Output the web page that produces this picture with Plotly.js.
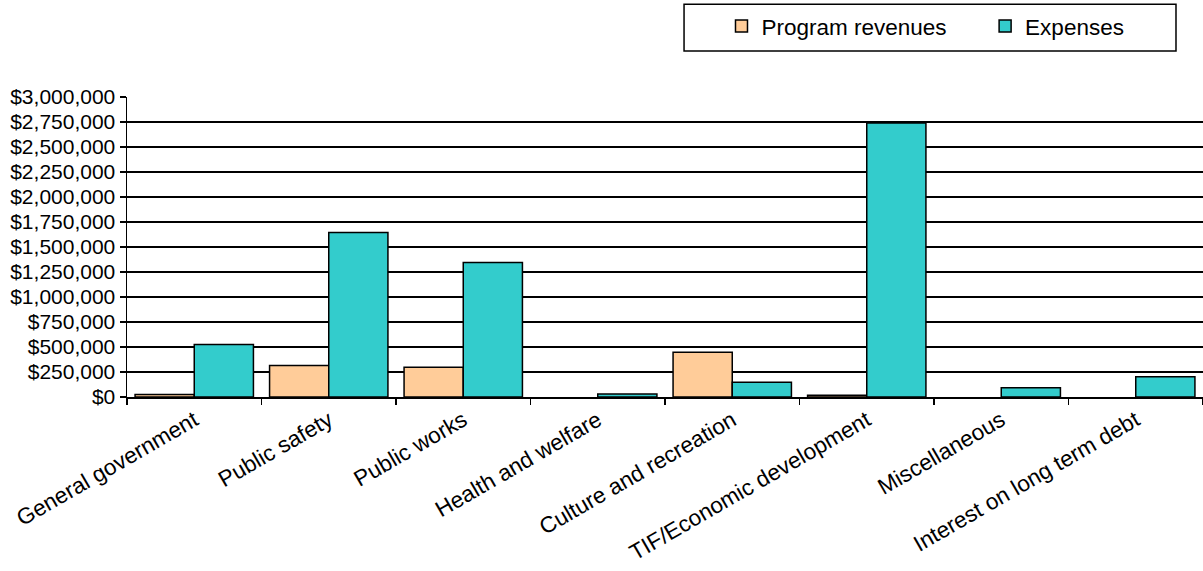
<!DOCTYPE html>
<html>
<head>
<meta charset="utf-8">
<script src="https://cdn.plot.ly/plotly-3.0.1.min.js"></script>
<style>html,body{margin:0;padding:0;background:#fff;}#chart{width:1203px;height:571px;}</style>
</head>
<body>
<div id="chart"></div>
<script>
const categories = ["General government", "Public safety", "Public works", "Health and welfare",
  "Culture and recreation", "TIF/Economic development", "Miscellaneous", "Interest on long term debt"];
const programRevenues = [25000, 314000, 297000, 0, 447000, 18000, 0, 0];
const expenses = [524000, 1645000, 1345000, 30000, 148000, 2740000, 92000, 202000];
const seriesNames = ["Program revenues", "Expenses"];

const fam = "Liberation Sans, Arial, sans-serif";
const noZero = arr => arr.map(v => (v === 0 ? null : v));

const traces = [
  {type: "bar", name: seriesNames[0], x: categories, y: noZero(programRevenues), legend: "legend",
   marker: {color: "#FFCC99", line: {color: "#000", width: 1.5}}},
  {type: "bar", name: seriesNames[1], x: categories, y: noZero(expenses), legend: "legend2",
   marker: {color: "#33CCCC", line: {color: "#000", width: 1.5}}}
];

const legendBase = {
  orientation: "h", xanchor: "left", y: 1.307, yanchor: "top",
  borderwidth: 0, bgcolor: "rgba(0,0,0,0)", itemwidth: 30,
  font: {family: fam, size: 22.5, color: "#000"}
};

const layout = {
  width: 1203, height: 571,
  margin: {l: 127, r: 0, t: 97, b: 173.5, pad: 0},
  paper_bgcolor: "#fff", plot_bgcolor: "#fff",
  font: {family: fam, size: 21, color: "#000"},
  barmode: "group", bargap: 0.12, bargroupgap: 0,
  showlegend: true,
  legend: Object.assign({}, legendBase, {x: 0.5525}),
  legend2: Object.assign({}, legendBase, {x: 0.7975}),
  shapes: [{type: "rect", xref: "paper", yref: "paper", x0: 0.5177, x1: 0.9749, y0: 1.1531, y1: 1.3095,
            line: {color: "#000", width: 1.5}, fillcolor: "rgba(0,0,0,0)", layer: "below"}],
  xaxis: {
    type: "category", tickangle: -30, automargin: false,
    showline: true, linecolor: "#000", linewidth: 1.5,
    ticks: "outside", tickson: "boundaries", ticklen: 6, tickcolor: "#000", tickwidth: 1.5,
    showgrid: false, tickfont: {family: fam, size: 22.5, color: "#000"}
  },
  yaxis: {
    range: [0, 3000000], dtick: 250000, tick0: 0, tickprefix: "$", tickformat: ",d",
    automargin: false, showline: true, linecolor: "#000", linewidth: 1.5,
    ticks: "outside", ticklen: 6, tickcolor: "#000", tickwidth: 1.5,
    showgrid: true, gridcolor: "#000", gridwidth: 1.2, zeroline: false,
    tickfont: {family: fam, size: 21, color: "#000"}
  }
};

Plotly.newPlot("chart", traces, layout, {displayModeBar: false, staticPlot: true});
</script>
</body>
</html>
